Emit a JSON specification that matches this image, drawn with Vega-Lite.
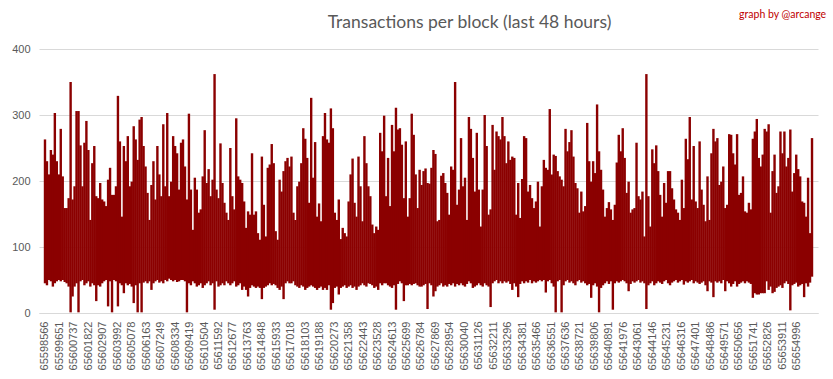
{
  "$schema": "https://vega.github.io/schema/vega-lite/v6.json",
  "autosize": {"type": "none"},
  "width": 779,
  "height": 264,
  "padding": {"left": 39, "top": 49, "right": 15, "bottom": 66},
  "background": "white",
  "config": {
    "view": {"stroke": null},
    "font": "Liberation Sans",
    "axis": {"labelFont": "Liberation Sans", "labelColor": "#595959", "labelFontSize": 11, "labelOverlap": false},
    "axisX": {"labelOverlap": false, "labelSeparation": 0}
  },
  "title": {
    "text": "Transactions per block (last 48 hours)",
    "font": "Lato",
    "fontSize": 17.5,
    "fontWeight": "normal",
    "color": "#595959",
    "anchor": "middle",
    "frame": "group",
    "dx": 41,
    "offset": -22
  },
  "layer": [
    {
      "data": {"values": [
        {"block":65598566,"min":45,"max":263},{"block":65598714,"min":42,"max":230},{"block":65598862,"min":50,"max":210},{"block":65599010,"min":48,"max":247},{"block":65599158,"min":40,"max":240},{"block":65599306,"min":45,"max":303},{"block":65599454,"min":48,"max":230},{"block":65599602,"min":50,"max":210},{"block":65599750,"min":48,"max":279},{"block":65599898,"min":50,"max":207},{"block":65600046,"min":47,"max":159},{"block":65600194,"min":45,"max":159},{"block":65600342,"min":40,"max":174},{"block":65600490,"min":1,"max":350},{"block":65600638,"min":25,"max":172},{"block":65600786,"min":40,"max":192},{"block":65600934,"min":45,"max":306},{"block":65601082,"min":1,"max":306},{"block":65601230,"min":48,"max":254},{"block":65601378,"min":50,"max":192},{"block":65601526,"min":42,"max":258},{"block":65601674,"min":45,"max":291},{"block":65601822,"min":48,"max":247},{"block":65601970,"min":40,"max":141},{"block":65602118,"min":45,"max":227},{"block":65602266,"min":42,"max":253},{"block":65602414,"min":18,"max":177},{"block":65602562,"min":42,"max":174},{"block":65602710,"min":40,"max":197},{"block":65602858,"min":45,"max":172},{"block":65603006,"min":48,"max":169},{"block":65603154,"min":50,"max":162},{"block":65603302,"min":10,"max":202},{"block":65603450,"min":48,"max":220},{"block":65603598,"min":1,"max":179},{"block":65603746,"min":50,"max":179},
        {"block":65603894,"min":48,"max":192},{"block":65604042,"min":10,"max":329},{"block":65604190,"min":45,"max":260},{"block":65604338,"min":42,"max":146},{"block":65604486,"min":30,"max":253},{"block":65604634,"min":45,"max":230},{"block":65604782,"min":42,"max":268},{"block":65604930,"min":44,"max":192},{"block":65605078,"min":40,"max":199},{"block":65605226,"min":15,"max":283},{"block":65605374,"min":42,"max":263},{"block":65605522,"min":1,"max":232},{"block":65605670,"min":45,"max":293},{"block":65605818,"min":1,"max":297},{"block":65605966,"min":46,"max":253},{"block":65606114,"min":48,"max":222},{"block":65606262,"min":45,"max":182},{"block":65606410,"min":48,"max":141},{"block":65606558,"min":35,"max":194},{"block":65606706,"min":45,"max":230},{"block":65606854,"min":48,"max":172},{"block":65607002,"min":50,"max":253},{"block":65607150,"min":46,"max":210},{"block":65607298,"min":48,"max":177},{"block":65607446,"min":45,"max":286},{"block":65607594,"min":50,"max":192},{"block":65607742,"min":48,"max":303},{"block":65607890,"min":52,"max":177},{"block":65608038,"min":50,"max":199},{"block":65608186,"min":48,"max":268},{"block":65608334,"min":50,"max":253},{"block":65608482,"min":47,"max":242},{"block":65608630,"min":48,"max":187},{"block":65608778,"min":50,"max":258},{"block":65608926,"min":50,"max":263},{"block":65609074,"min":48,"max":222},
        {"block":65609222,"min":1,"max":172},{"block":65609370,"min":45,"max":302},{"block":65609518,"min":42,"max":187},{"block":65609666,"min":48,"max":126},{"block":65609814,"min":45,"max":205},{"block":65609962,"min":40,"max":187},{"block":65610110,"min":42,"max":152},{"block":65610258,"min":45,"max":157},{"block":65610406,"min":38,"max":207},{"block":65610554,"min":42,"max":277},{"block":65610702,"min":45,"max":197},{"block":65610850,"min":48,"max":218},{"block":65610998,"min":42,"max":177},{"block":65611146,"min":45,"max":202},{"block":65611294,"min":5,"max":362},{"block":65611442,"min":48,"max":187},{"block":65611590,"min":40,"max":174},{"block":65611738,"min":42,"max":257},{"block":65611886,"min":45,"max":197},{"block":65612034,"min":42,"max":167},{"block":65612182,"min":48,"max":152},{"block":65612330,"min":45,"max":141},{"block":65612478,"min":42,"max":250},{"block":65612626,"min":45,"max":177},{"block":65612774,"min":48,"max":157},{"block":65612922,"min":40,"max":295},{"block":65613070,"min":42,"max":207},{"block":65613218,"min":45,"max":202},{"block":65613366,"min":35,"max":197},{"block":65613514,"min":40,"max":169},{"block":65613662,"min":35,"max":129},{"block":65613810,"min":25,"max":154},{"block":65613958,"min":38,"max":149},{"block":65614106,"min":42,"max":242},{"block":65614254,"min":40,"max":149},{"block":65614402,"min":38,"max":154},
        {"block":65614550,"min":40,"max":121},{"block":65614698,"min":38,"max":111},{"block":65614846,"min":21,"max":237},{"block":65614994,"min":38,"max":164},{"block":65615142,"min":40,"max":116},{"block":65615290,"min":42,"max":220},{"block":65615438,"min":45,"max":225},{"block":65615586,"min":42,"max":256},{"block":65615734,"min":44,"max":227},{"block":65615882,"min":42,"max":124},{"block":65616030,"min":38,"max":111},{"block":65616178,"min":35,"max":202},{"block":65616326,"min":40,"max":184},{"block":65616474,"min":21,"max":215},{"block":65616622,"min":45,"max":230},{"block":65616770,"min":48,"max":235},{"block":65616918,"min":45,"max":222},{"block":65617066,"min":45,"max":237},{"block":65617214,"min":48,"max":152},{"block":65617362,"min":42,"max":141},{"block":65617510,"min":40,"max":192},{"block":65617658,"min":38,"max":199},{"block":65617806,"min":42,"max":227},{"block":65617954,"min":40,"max":280},{"block":65618102,"min":35,"max":264},{"block":65618250,"min":38,"max":235},{"block":65618398,"min":40,"max":167},{"block":65618546,"min":42,"max":326},{"block":65618694,"min":40,"max":205},{"block":65618842,"min":38,"max":259},{"block":65618990,"min":35,"max":146},{"block":65619138,"min":38,"max":166},{"block":65619286,"min":40,"max":139},{"block":65619434,"min":35,"max":268},{"block":65619582,"min":38,"max":303},{"block":65619730,"min":35,"max":263},
        {"block":65619878,"min":42,"max":258},{"block":65620026,"min":5,"max":310},{"block":65620174,"min":15,"max":280},{"block":65620322,"min":38,"max":152},{"block":65620470,"min":40,"max":141},{"block":65620618,"min":28,"max":172},{"block":65620766,"min":38,"max":112},{"block":65620914,"min":40,"max":129},{"block":65621062,"min":42,"max":121},{"block":65621210,"min":38,"max":116},{"block":65621358,"min":40,"max":169},{"block":65621506,"min":42,"max":210},{"block":65621654,"min":38,"max":234},{"block":65621802,"min":40,"max":167},{"block":65621950,"min":35,"max":146},{"block":65622098,"min":40,"max":237},{"block":65622246,"min":42,"max":192},{"block":65622394,"min":45,"max":139},{"block":65622542,"min":42,"max":268},{"block":65622690,"min":40,"max":227},{"block":65622838,"min":45,"max":192},{"block":65622986,"min":44,"max":177},{"block":65623134,"min":42,"max":134},{"block":65623282,"min":38,"max":121},{"block":65623430,"min":40,"max":131},{"block":65623578,"min":35,"max":126},{"block":65623726,"min":45,"max":273},{"block":65623874,"min":42,"max":245},{"block":65624022,"min":45,"max":299},{"block":65624170,"min":45,"max":177},{"block":65624318,"min":42,"max":235},{"block":65624466,"min":40,"max":162},{"block":65624614,"min":38,"max":285},{"block":65624762,"min":42,"max":245},{"block":65624910,"min":5,"max":311},{"block":65625058,"min":44,"max":278},
        {"block":65625206,"min":48,"max":280},{"block":65625354,"min":45,"max":255},{"block":65625502,"min":18,"max":174},{"block":65625650,"min":42,"max":260},{"block":65625798,"min":42,"max":146},{"block":65625946,"min":44,"max":174},{"block":65626094,"min":42,"max":302},{"block":65626242,"min":44,"max":270},{"block":65626390,"min":45,"max":210},{"block":65626538,"min":42,"max":159},{"block":65626686,"min":40,"max":217},{"block":65626834,"min":40,"max":194},{"block":65626982,"min":42,"max":215},{"block":65627130,"min":44,"max":219},{"block":65627278,"min":6,"max":197},{"block":65627426,"min":45,"max":196},{"block":65627574,"min":42,"max":220},{"block":65627722,"min":25,"max":247},{"block":65627870,"min":33,"max":241},{"block":65628018,"min":40,"max":139},{"block":65628166,"min":42,"max":141},{"block":65628314,"min":45,"max":208},{"block":65628462,"min":40,"max":212},{"block":65628610,"min":42,"max":197},{"block":65628758,"min":40,"max":182},{"block":65628906,"min":44,"max":149},{"block":65629054,"min":42,"max":222},{"block":65629202,"min":45,"max":217},{"block":65629350,"min":40,"max":350},{"block":65629498,"min":44,"max":164},{"block":65629646,"min":42,"max":187},{"block":65629794,"min":45,"max":265},{"block":65629942,"min":42,"max":192},{"block":65630090,"min":40,"max":205},{"block":65630238,"min":44,"max":141},{"block":65630386,"min":48,"max":297},
        {"block":65630534,"min":45,"max":279},{"block":65630682,"min":38,"max":235},{"block":65630830,"min":40,"max":184},{"block":65630978,"min":42,"max":273},{"block":65631126,"min":45,"max":187},{"block":65631274,"min":42,"max":131},{"block":65631422,"min":40,"max":187},{"block":65631570,"min":45,"max":300},{"block":65631718,"min":42,"max":253},{"block":65631866,"min":40,"max":149},{"block":65632014,"min":9,"max":157},{"block":65632162,"min":45,"max":285},{"block":65632310,"min":48,"max":217},{"block":65632458,"min":50,"max":275},{"block":65632606,"min":45,"max":268},{"block":65632754,"min":48,"max":263},{"block":65632902,"min":45,"max":297},{"block":65633050,"min":48,"max":268},{"block":65633198,"min":46,"max":227},{"block":65633346,"min":48,"max":260},{"block":65633494,"min":44,"max":232},{"block":65633642,"min":35,"max":237},{"block":65633790,"min":45,"max":235},{"block":65633938,"min":40,"max":149},{"block":65634086,"min":24,"max":197},{"block":65634234,"min":44,"max":144},{"block":65634382,"min":48,"max":203},{"block":65634530,"min":45,"max":268},{"block":65634678,"min":48,"max":265},{"block":65634826,"min":46,"max":184},{"block":65634974,"min":50,"max":194},{"block":65635122,"min":45,"max":174},{"block":65635270,"min":48,"max":159},{"block":65635418,"min":46,"max":169},{"block":65635566,"min":48,"max":199},{"block":65635714,"min":50,"max":131},
        {"block":65635862,"min":48,"max":192},{"block":65636010,"min":50,"max":232},{"block":65636158,"min":31,"max":220},{"block":65636306,"min":48,"max":217},{"block":65636454,"min":50,"max":309},{"block":65636602,"min":45,"max":210},{"block":65636750,"min":40,"max":240},{"block":65636898,"min":1,"max":238},{"block":65637046,"min":48,"max":215},{"block":65637194,"min":50,"max":207},{"block":65637342,"min":1,"max":202},{"block":65637490,"min":42,"max":192},{"block":65637638,"min":48,"max":279},{"block":65637786,"min":50,"max":245},{"block":65637934,"min":46,"max":259},{"block":65638082,"min":48,"max":277},{"block":65638230,"min":45,"max":237},{"block":65638378,"min":42,"max":197},{"block":65638526,"min":48,"max":189},{"block":65638674,"min":50,"max":152},{"block":65638822,"min":46,"max":184},{"block":65638970,"min":48,"max":154},{"block":65639118,"min":45,"max":162},{"block":65639266,"min":42,"max":288},{"block":65639414,"min":44,"max":230},{"block":65639562,"min":23,"max":199},{"block":65639710,"min":42,"max":230},{"block":65639858,"min":45,"max":212},{"block":65640006,"min":40,"max":316},{"block":65640154,"min":1,"max":245},{"block":65640302,"min":38,"max":217},{"block":65640450,"min":42,"max":187},{"block":65640598,"min":45,"max":146},{"block":65640746,"min":48,"max":159},{"block":65640894,"min":44,"max":168},{"block":65641042,"min":48,"max":157},
        {"block":65641190,"min":5,"max":141},{"block":65641338,"min":45,"max":164},{"block":65641486,"min":48,"max":228},{"block":65641634,"min":46,"max":270},{"block":65641782,"min":48,"max":245},{"block":65641930,"min":50,"max":280},{"block":65642078,"min":48,"max":235},{"block":65642226,"min":45,"max":182},{"block":65642374,"min":33,"max":199},{"block":65642522,"min":44,"max":152},{"block":65642670,"min":48,"max":157},{"block":65642818,"min":46,"max":159},{"block":65642966,"min":48,"max":258},{"block":65643114,"min":50,"max":177},{"block":65643262,"min":46,"max":172},{"block":65643410,"min":48,"max":184},{"block":65643558,"min":45,"max":116},{"block":65643706,"min":6,"max":362},{"block":65643854,"min":42,"max":177},{"block":65644002,"min":45,"max":131},{"block":65644150,"min":48,"max":248},{"block":65644298,"min":42,"max":227},{"block":65644446,"min":45,"max":254},{"block":65644594,"min":48,"max":215},{"block":65644742,"min":46,"max":179},{"block":65644890,"min":44,"max":146},{"block":65645038,"min":48,"max":197},{"block":65645186,"min":50,"max":167},{"block":65645334,"min":45,"max":215},{"block":65645482,"min":42,"max":215},{"block":65645630,"min":46,"max":189},{"block":65645778,"min":48,"max":172},{"block":65645926,"min":50,"max":157},{"block":65646074,"min":46,"max":152},{"block":65646222,"min":48,"max":141},{"block":65646370,"min":50,"max":202},
        {"block":65646518,"min":43,"max":159},{"block":65646666,"min":48,"max":264},{"block":65646814,"min":46,"max":233},{"block":65646962,"min":48,"max":297},{"block":65647110,"min":50,"max":172},{"block":65647258,"min":45,"max":253},{"block":65647406,"min":48,"max":169},{"block":65647554,"min":46,"max":159},{"block":65647702,"min":44,"max":260},{"block":65647850,"min":46,"max":187},{"block":65647998,"min":48,"max":164},{"block":65648146,"min":42,"max":139},{"block":65648294,"min":33,"max":207},{"block":65648442,"min":48,"max":141},{"block":65648590,"min":46,"max":242},{"block":65648738,"min":24,"max":279},{"block":65648886,"min":48,"max":260},{"block":65649034,"min":46,"max":265},{"block":65649182,"min":48,"max":194},{"block":65649330,"min":45,"max":199},{"block":65649478,"min":50,"max":222},{"block":65649626,"min":33,"max":159},{"block":65649774,"min":48,"max":164},{"block":65649922,"min":45,"max":271},{"block":65650070,"min":40,"max":270},{"block":65650218,"min":44,"max":242},{"block":65650366,"min":48,"max":225},{"block":65650514,"min":40,"max":271},{"block":65650662,"min":44,"max":179},{"block":65650810,"min":46,"max":182},{"block":65650958,"min":48,"max":207},{"block":65651106,"min":45,"max":154},{"block":65651254,"min":48,"max":152},{"block":65651402,"min":46,"max":167},{"block":65651550,"min":44,"max":157},{"block":65651698,"min":23,"max":264},
        {"block":65651846,"min":30,"max":275},{"block":65651994,"min":28,"max":294},{"block":65652142,"min":28,"max":235},{"block":65652290,"min":30,"max":222},{"block":65652438,"min":30,"max":240},{"block":65652586,"min":30,"max":279},{"block":65652734,"min":48,"max":275},{"block":65652882,"min":35,"max":286},{"block":65653030,"min":40,"max":152},{"block":65653178,"min":30,"max":215},{"block":65653326,"min":32,"max":240},{"block":65653474,"min":38,"max":182},{"block":65653622,"min":40,"max":192},{"block":65653770,"min":42,"max":275},{"block":65653918,"min":38,"max":242},{"block":65654066,"min":45,"max":275},{"block":65654214,"min":48,"max":222},{"block":65654362,"min":44,"max":235},{"block":65654510,"min":4,"max":278},{"block":65654658,"min":42,"max":184},{"block":65654806,"min":44,"max":212},{"block":65654954,"min":46,"max":240},{"block":65655102,"min":40,"max":218},{"block":65655250,"min":42,"max":207},{"block":65655398,"min":44,"max":169},{"block":65655546,"min":24,"max":167},{"block":65655694,"min":45,"max":146},{"block":65655842,"min":40,"max":205},{"block":65655990,"min":46,"max":121},{"block":65656138,"min":55,"max":265}
      ]},
      "mark": {"type": "bar", "size": 2.4, "color": "#8b0000", "clip": true},
      "encoding": {
        "x": {
          "field": "block",
          "type": "quantitative",
          "scale": {"domain": [65598492, 65656212], "nice": false, "zero": false},
          "axis": {
            "title": null,
            "values": [65598566,65599651,65600737,65601822,65602907,65603992,65605078,65606163,65607249,65608334,65609419,65610504,65611592,65612677,65613763,65614848,65615933,65617018,65618103,65619188,65620273,65621358,65622443,65623528,65624613,65625699,65626784,65627869,65628954,65630040,65631126,65632211,65633296,65634381,65635466,65636551,65637636,65638721,65639806,65640891,65641976,65643061,65644146,65645231,65646316,65647401,65648486,65649571,65650656,65651741,65652826,65653911,65654996],
            "tickCount": 60,
            "format": "d",
            "labelAngle": -90,
            "labelOverlap": false,
            "labelFlush": false,
            "labelPadding": 8,
            "ticks": false,
            "grid": false,
            "domainColor": "#d9d9d9",
            "domainWidth": 1
          }
        },
        "y": {
          "field": "max",
          "type": "quantitative",
          "scale": {"domain": [0, 400], "nice": false},
          "axis": {
            "title": null,
            "values": [0, 50, 100, 150, 200, 250, 300, 350, 400],
            "domain": false,
            "ticks": false,
            "grid": true,
            "gridColor": "#d9d9d9",
            "gridWidth": 1,
            "labelPadding": 9
          }
        },
        "y2": {"field": "min"}
      }
    },
    {
      "data": {"values": [{"note": "graph by @arcange"}]},
      "mark": {"type": "text", "align": "right", "baseline": "middle", "color": "#c00000", "fontSize": 10.5, "font": "Lato"},
      "encoding": {
        "text": {"field": "note"},
        "x": {"datum": 65657200},
        "y": {"datum": 452}
      }
    }
  ]
}
